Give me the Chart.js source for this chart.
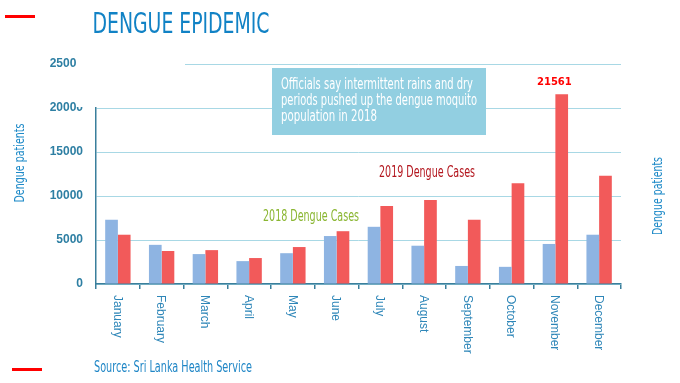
<!DOCTYPE html>
<html>
<head>
<meta charset="utf-8">
<script src="https://cdn.jsdelivr.net/npm/chart.js@4/dist/chart.umd.min.js"></script>
<style>
html,body{margin:0;padding:0;background:#fff;}
canvas{display:block;}
</style>
</head>
<body>
<canvas id="c" width="680" height="383"></canvas>
<script>
// ---- data ----
const months = ["January","February","March","April","May","June","July","August","September","October","November","December"];
const cases2018 = [7300, 4450, 3400, 2600, 3500, 5450, 6500, 4350, 2050, 1950, 4550, 5600];
const cases2019 = [5600, 3750, 3850, 2950, 4200, 6000, 8850, 9550, 7300, 11450, 21561, 12300];
const seriesNames = ["2018 Dengue Cases", "2019 Dengue Cases"];
const yTicks = [0, 5000, 10000, 15000, 20000, 25000];
const chartTitle = "DENGUE EPIDEMIC";
const axisTitle = "Dengue patients";
const noteLines = ["Officials say intermittent rains and dry", "periods pushed up the dengue moquito", "population in 2018"];
const sourceText = "Source: Sri Lanka Health Service";

const NARROW = '"Liberation Sans Narrow","DejaVu Sans Condensed","Liberation Sans",sans-serif';

function fitText(ctx, text, x, y, w, size, weight, color, rot, baseline) {
  ctx.save();
  ctx.font = weight + ' ' + size + 'px ' + NARROW;
  const m = ctx.measureText(text).width;
  const s = w / m;
  ctx.translate(x, y);
  if (rot) ctx.rotate(rot);
  ctx.scale(s, 1);
  ctx.fillStyle = color;
  ctx.textAlign = 'center';
  ctx.textBaseline = baseline || 'alphabetic';
  ctx.fillText(text, 0, 0);
  ctx.restore();
}

const decor = {
  id: 'decor',
  afterDraw(chart) {
    const ctx = chart.ctx;
    const xs = chart.scales.x, ys = chart.scales.y;
    // white cover over upper-left
    ctx.save();
    ctx.fillStyle = '#ffffff';
    ctx.fillRect(76, 45, 109, 62);
    // red dashes
    ctx.fillStyle = '#ff0000';
    ctx.fillRect(5, 15, 30, 3);
    ctx.fillRect(12, 368, 30, 3);
    ctx.restore();

    // title
    fitText(ctx, chartTitle, 181, 33, 177, 29, 'normal', '#1182C5');

    // annotation box
    ctx.save();
    ctx.fillStyle = '#92CFE1';
    ctx.fillRect(272, 68, 214, 67);
    ctx.restore();
    fitText(ctx, noteLines[0], 281 + 96, 89, 192, 15, 'normal', '#ffffff');
    fitText(ctx, noteLines[1], 281 + 98, 105, 196, 15, 'normal', '#ffffff');
    fitText(ctx, noteLines[2], 281 + 48, 121, 96, 15, 'normal', '#ffffff');

    // series labels
    fitText(ctx, seriesNames[1], 427, 177, 96, 15, 'normal', '#B3161E');
    fitText(ctx, seriesNames[0], 311, 221, 96, 15, 'normal', '#8AB631');

    // source
    fitText(ctx, sourceText, 173, 372, 158, 15, 'normal', '#1F86C6');

    // axis titles
    fitText(ctx, axisTitle, 20, 163, 79, 14, 'normal', '#1E8AC8', -Math.PI / 2, 'middle');
    fitText(ctx, axisTitle, 658, 196, 78, 14, 'normal', '#1E8AC8', -Math.PI / 2, 'middle');

    // max label
    const maxVal = Math.max(...cases2019);
    const idx = cases2019.indexOf(maxVal);
    ctx.save();
    ctx.font = 'bold 10px "DejaVu Sans",sans-serif';
    ctx.fillStyle = '#ff0000';
    ctx.textAlign = 'center';
    ctx.textBaseline = 'alphabetic';
    ctx.fillText(String(maxVal), xs.getPixelForValue(idx) - 1, ys.getPixelForValue(maxVal) - 9);
    ctx.restore();

    // x labels, rotated reading top to bottom
    ctx.save();
    ctx.font = '12px "Liberation Sans",sans-serif';
    ctx.fillStyle = '#2E86B8';
    ctx.textAlign = 'left';
    ctx.textBaseline = 'middle';
    months.forEach((m, i) => {
      const x = xs.getPixelForValue(i) - 1;
      ctx.save();
      ctx.translate(x, 295);
      ctx.rotate(Math.PI / 2);
      ctx.fillText(m, 0, 0);
      ctx.restore();
    });
    ctx.restore();
  }
};

new Chart(document.getElementById('c'), {
  type: 'bar',
  data: {
    labels: months,
    datasets: [
      { label: seriesNames[0], data: cases2018, backgroundColor: '#8EB4E2', borderWidth: 0 },
      { label: seriesNames[1], data: cases2019, backgroundColor: '#F25A5A', borderWidth: 0 }
    ]
  },
  options: {
    responsive: false,
    animation: false,
    devicePixelRatio: 1,
    layout: { padding: { top: 64, right: 59, bottom: 0, left: 0 } },
    plugins: { legend: { display: false }, tooltip: { enabled: false }, title: { display: false } },
    datasets: { bar: { categoryPercentage: 0.58, barPercentage: 1.0 } },
    scales: {
      x: {
        offset: true,
        grid: { display: true, offset: true, drawOnChartArea: false, drawTicks: true, tickLength: 5, color: '#3A7F9C', lineWidth: 1.5 },
        border: { display: true, color: '#3A7F9C', width: 1.5 },
        ticks: { display: false },
        afterFit(s) { s.height = 99; }
      },
      y: {
        min: 0, max: 25000,
        afterBuildTicks(s) { s.ticks = yTicks.map(v => ({ value: v })); },
        grid: { color: '#A8D8E5', lineWidth: 1, drawTicks: false },
        border: { display: true, color: '#3A7F9C', width: 1.5 },
        ticks: { color: '#2E7FA3', padding: 13, callback: v => String(v), font: { family: '"Liberation Sans",sans-serif', size: 12, weight: 'bold' } },
        afterFit(s) { s.width = 96; }
      }
    }
  },
  plugins: [decor]
});
</script>
</body>
</html>
